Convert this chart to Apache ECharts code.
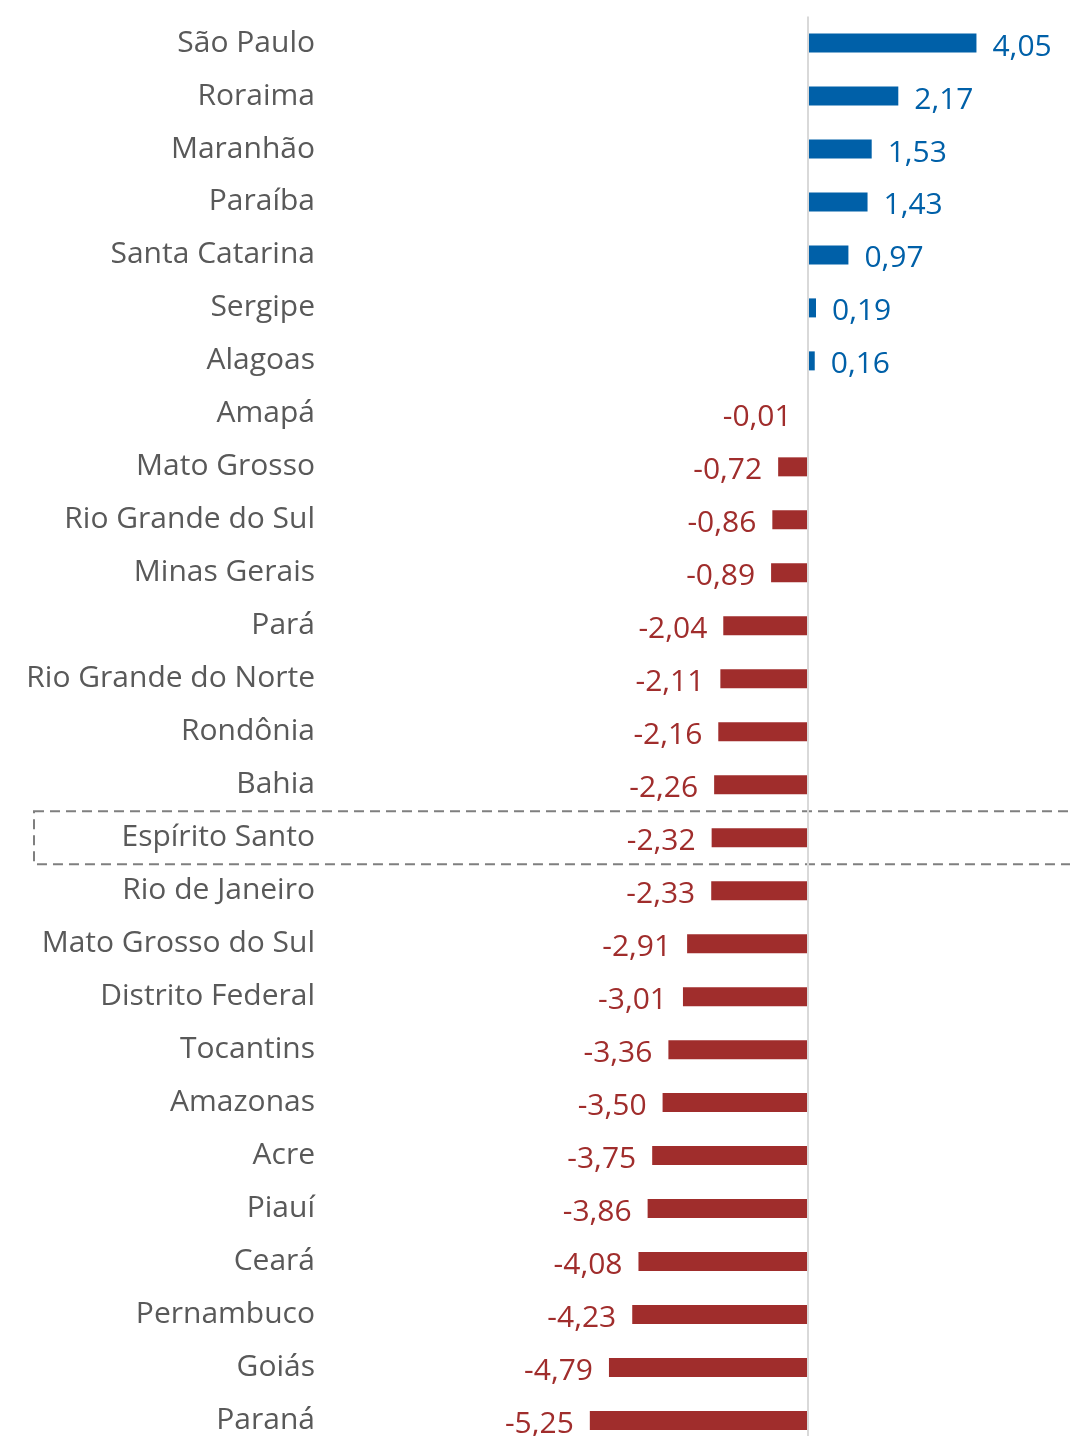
<!DOCTYPE html>
<html><head><meta charset="utf-8">
<script src="https://cdn.jsdelivr.net/npm/echarts@6/dist/echarts.min.js"></script>
<style>html,body{margin:0;padding:0;background:#fff;overflow:hidden}#c{width:1070px;height:1447px}</style>
</head><body><div id="c"></div>
<script>
const categories = ["São Paulo","Roraima","Maranhão","Paraíba","Santa Catarina","Sergipe","Alagoas","Amapá","Mato Grosso","Rio Grande do Sul","Minas Gerais","Pará","Rio Grande do Norte","Rondônia","Bahia","Espírito Santo","Rio de Janeiro","Mato Grosso do Sul","Distrito Federal","Tocantins","Amazonas","Acre","Piauí","Ceará","Pernambuco","Goiás","Paraná"];
const values = [4.05,2.17,1.53,1.43,0.97,0.19,0.16,-0.01,-0.72,-0.86,-0.89,-2.04,-2.11,-2.16,-2.26,-2.32,-2.33,-2.91,-3.01,-3.36,-3.50,-3.75,-3.86,-4.08,-4.23,-4.79,-5.25];
const highlighted = "Espírito Santo";

const BLUE = "#0060A8", RED = "#A02D2C";
const FONT = "'Open Sans', 'Noto Sans', sans-serif";

const chart = echarts.init(document.getElementById('c'));
const data = values.map(v => ({
  value: v,
  itemStyle: {color: v >= 0 ? BLUE : RED},
  label: {position: v >= 0 ? 'right' : 'left', color: v >= 0 ? BLUE : RED}
}));
chart.setOption({
  animation: false,
  grid: {left: 330, right: 0, top: 16.5, bottom: 0, containLabel: false},
  xAxis: {type: 'value', min: -11.5, max: 6.3, show: false},
  yAxis: {type: 'category', data: categories, inverse: true,
    axisLine: {show: false}, axisTick: {show: false},
    axisLabel: {margin: 15, color: '#595959', fontSize: 30, fontFamily: FONT, padding: [4, 0, 0, 0]}},
  series: [{
    type: 'bar', data: data, barWidth: 19,
    label: {show: true, distance: 16, offset: [0, 4], fontSize: 30, fontFamily: FONT,
      formatter: p => p.value.toFixed(2).replace('.', ',')},
    markLine: {silent: true, symbol: 'none', label: {show: false},
      lineStyle: {color: '#D9D9D9', width: 2, type: 'solid'},
      data: [{xAxis: 0}]}
  }]
});
const cy = chart.convertToPixel({yAxisIndex: 0}, highlighted);
const band = Math.abs(chart.convertToPixel({yAxisIndex: 0}, categories[1]) - chart.convertToPixel({yAxisIndex: 0}, categories[0]));
chart.setOption({graphic: [{type: 'rect', silent: true,
  shape: {x: 34, y: cy - band / 2, width: 1060, height: band},
  style: {fill: 'none', stroke: '#7F7F7F', lineWidth: 2, lineDash: [10, 6]}}]});
</script></body></html>
